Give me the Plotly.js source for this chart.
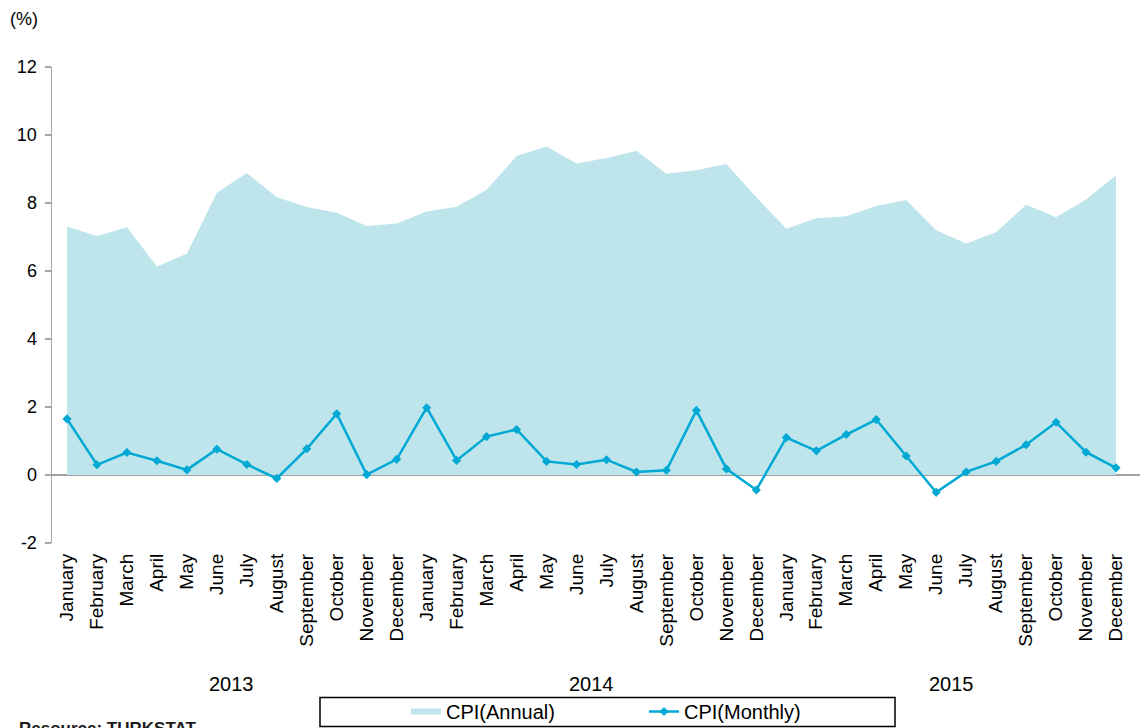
<!DOCTYPE html>
<html>
<head>
<meta charset="utf-8">
<script src="https://cdn.plot.ly/plotly-3.0.1.min.js"></script>
<style>
html,body{margin:0;padding:0;background:#fff;}
#chart{width:1140px;height:728px;}
</style>
</head>
<body>
<div id="chart"></div>
<script>
const months = ["January","February","March","April","May","June","July","August","September","October","November","December",
  "January","February","March","April","May","June","July","August","September","October","November","December",
  "January","February","March","April","May","June","July","August","September","October","November","December"];
const years = ["2013","2014","2015"];
const yearCenters = [5.5, 17.5, 29.5];
const cpiAnnual = [7.31,7.03,7.29,6.13,6.51,8.30,8.88,8.17,7.88,7.71,7.32,7.40,
  7.75,7.89,8.39,9.38,9.66,9.16,9.32,9.54,8.86,8.96,9.15,8.17,
  7.24,7.55,7.61,7.91,8.09,7.20,6.81,7.14,7.95,7.58,8.10,8.81];
const cpiMonthly = [1.65,0.30,0.66,0.42,0.15,0.76,0.31,-0.10,0.77,1.80,0.01,0.46,
  1.98,0.43,1.13,1.34,0.40,0.31,0.45,0.09,0.14,1.90,0.18,-0.44,
  1.10,0.71,1.19,1.63,0.56,-0.51,0.09,0.40,0.89,1.55,0.67,0.21];
const seriesNames = ["CPI(Annual)","CPI(Monthly)"];
const yTicks = [-2,0,2,4,6,8,10,12];
const yTickText = ["-2","0","2","4","6","8","10","12"];

const idx = months.map((m,i)=>i);
const FONT = 'Liberation Sans, Arial, sans-serif';

const traces = [
  {x: idx, y: cpiAnnual, name: seriesNames[0], type:'scatter', mode:'none',
   fill:'tozeroy', fillcolor:'#BEE5EB', hoverinfo:'skip'},
  {x: idx, y: cpiMonthly, name: seriesNames[1], type:'scatter', mode:'lines+markers',
   line:{color:'#00A8D4', width:2.5},
   marker:{symbol:'diamond', size:7, color:'#00A8D4'}}
];

const W = 1140, H = 728;
const L = 52, R = 0, T = 67, B = 185;
const pw = W - L - R, ph = H - T - B;
const px = x => (x - L) / pw;
const py = y => (T + ph - y) / ph;

const annotations = years.map((yr,i)=>({
  text: yr, x: yearCenters[i], xref:'x', y: py(684), yref:'paper',
  showarrow:false, xanchor:'center', yanchor:'middle',
  font:{family:FONT, size:20, color:'#000'}
}));
annotations.push({text:'(%)', x: px(8), xref:'paper', y: py(19), yref:'paper',
  showarrow:false, xanchor:'left', yanchor:'middle', font:{family:FONT, size:18, color:'#000'}});
annotations.push({text:'<b>Resource: TURKSTAT</b>', x: px(17), xref:'paper', y: py(717), yref:'paper',
  showarrow:false, xanchor:'left', yanchor:'top', font:{family:FONT, size:17, color:'#1a1a1a'}});

const layout = {
  width: W, height: H,
  margin:{l:L, r:R, t:T, b:B, pad:0, autoexpand:false},
  paper_bgcolor:'#fff', plot_bgcolor:'#fff',
  showlegend:true,
  font:{family:FONT, size:18, color:'#000'},
  xaxis:{
    range:[-0.5, 35.8], tickmode:'array', tickvals: idx, ticktext: months,
    tickangle:-90, ticks:'', showgrid:false, zeroline:false, showline:false,
    tickfont:{family:FONT, size:19, color:'#000'}, ticklabelstandoff: 6, fixedrange:true, automargin:false
  },
  yaxis:{
    range:[-2,12], tickmode:'array', tickvals: yTicks, ticktext: yTickText, showgrid:false,
    zeroline:true, zerolinecolor:'#A0A0A0', zerolinewidth:1.5,
    showline:true, linecolor:'#A6A6A6', linewidth:1.5,
    ticks:'outside', ticklen:6, tickcolor:'#A6A6A6', tickwidth:1.5,
    tickfont:{family:FONT, size:18, color:'#000'}, ticklabelstandoff: 4, fixedrange:true, automargin:false
  },
  legend:{orientation:'h', x: px(406), xanchor:'left', y: py(692), yanchor:'top',
    bgcolor:'rgba(0,0,0,0)', borderwidth:0, font:{family:FONT, size:20, color:'#000'},
    entrywidth: 193, entrywidthmode:'pixels', traceorder:'normal'},
  shapes:[{type:'rect', xref:'paper', yref:'paper', x0: px(320), x1: px(895), y0: py(697.5), y1: py(726.5),
    line:{color:'#000', width:1.5}, fillcolor:'rgba(0,0,0,0)'}],
  annotations: annotations
};

Plotly.newPlot('chart', traces, layout, {displayModeBar:false, staticPlot:true});
</script>
</body>
</html>
